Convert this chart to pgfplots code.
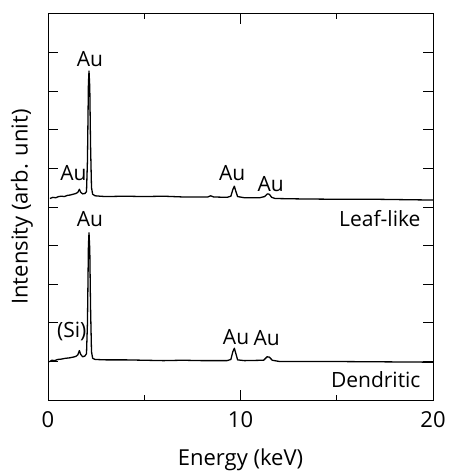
\documentclass[border=0pt]{standalone}
\usepackage{fontspec}
\setmainfont{Open Sans}
\usepackage{pgfplots}
\pgfplotsset{compat=1.18}

% EDS spectra, leaf-like (top, offset) and dendritic (bottom)
\pgfplotstableread{
x y
0.10 5.22
0.25 5.25
0.40 5.24
0.55 5.27
0.70 5.28
0.85 5.27
1.00 5.30
1.15 5.31
1.30 5.33
1.45 5.35
1.55 5.38
1.63 5.46
1.70 5.38
1.80 5.34
1.92 5.35
2.00 5.40
2.05 6.20
2.10 8.20
2.13 8.52
2.17 8.10
2.21 6.60
2.26 5.50
2.32 5.33
2.45 5.29
2.70 5.28
3.00 5.27
4.00 5.28
5.00 5.27
6.00 5.28
7.00 5.26
8.00 5.26
8.30 5.26
8.45 5.29
8.60 5.26
9.30 5.25
9.50 5.28
9.60 5.45
9.68 5.54
9.75 5.42
9.85 5.27
10.20 5.24
11.00 5.24
11.25 5.27
11.40 5.34
11.50 5.33
11.62 5.25
11.80 5.22
13.00 5.21
15.00 5.20
17.00 5.20
19.99 5.18
}\leaflike

\pgfplotstableread{
x y
0.07 0.99
0.20 1.03
0.35 1.02
0.50 1.05
0.70 1.06
0.90 1.08
1.10 1.09
1.30 1.11
1.45 1.13
1.55 1.17
1.63 1.28
1.70 1.18
1.80 1.12
1.92 1.14
2.00 1.20
2.05 2.00
2.10 4.00
2.13 4.33
2.17 3.90
2.21 2.40
2.26 1.25
2.32 1.08
2.45 1.05
3.00 1.04
4.00 1.04
5.00 1.03
6.00 1.02
7.00 1.03
8.00 1.02
9.30 1.02
9.50 1.05
9.60 1.25
9.68 1.34
9.75 1.22
9.85 1.04
10.20 1.02
11.20 1.03
11.38 1.12
11.50 1.11
11.65 1.03
12.00 1.00
14.00 1.00
17.00 0.99
19.99 0.98
}\dendritic

\tikzset{lbl/.style={font=\fontsize{21}{24}\selectfont, inner sep=0pt}}

\begin{document}
\begin{tikzpicture}
\begin{axis}[
  width=385pt, height=386pt,
  scale only axis,
  xmin=0, xmax=20, ymin=0, ymax=10,
  xtick={0,10,20},
  minor xtick={5,15},
  ytick={1,2,...,9},
  yticklabels={},
  tick align=inside,
  major tick length=10pt,
  minor tick length=5pt,
  axis line style={line width=1pt},
  every tick/.style={black, line width=0.9pt},
  /pgf/number format/assume math mode=true,
  tick label style={font=\fontsize{22}{26}\selectfont, inner sep=0pt},
  xticklabel style={anchor=center, yshift=-20pt},
  xlabel={Energy (keV)},
  ylabel={Intensity (arb. unit)},
  label style={font=\fontsize{22}{26}\selectfont, inner sep=0pt},
  xlabel style={at={(axis description cs:0.5,-0.155)}, anchor=center},
  ylabel style={at={(axis description cs:-0.0675,0.5)}, anchor=center},
]
\addplot[black, line width=1.3pt, line join=round] table[x=x, y=y] {\leaflike};
\addplot[black, line width=1.3pt, line join=round] table[x=x, y=y] {\dendritic};

\node[lbl] at (axis cs:2.18,8.83) {Au};
\node[lbl] at (axis cs:1.32,5.87) {Au};
\node[lbl] at (axis cs:9.57,5.87) {Au};
\node[lbl] at (axis cs:11.57,5.60) {Au};
\node[lbl, anchor=east] at (axis cs:19.36,4.69) {Leaf-like};

\node[lbl] at (axis cs:2.18,4.69) {Au};
\node[lbl] at (axis cs:1.23,1.77) {(Si)};
\node[lbl] at (axis cs:9.77,1.64) {Au};
\node[lbl] at (axis cs:11.36,1.60) {Au};
\node[lbl, anchor=east] at (axis cs:19.36,0.52) {Dendritic};

\coordinate (ll) at (rel axis cs:0,0);
\end{axis}
\path (ll) ++(-48pt,-71pt) rectangle ++(449pt,471pt);
\end{tikzpicture}
\end{document}
